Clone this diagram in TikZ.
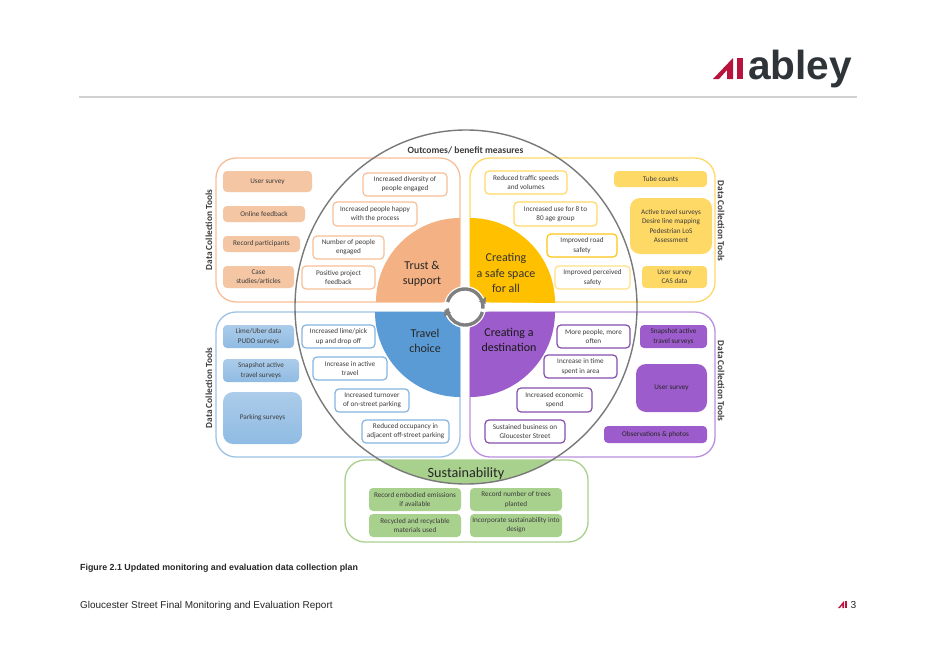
\documentclass[tikz,border=0pt]{standalone}
\usepackage{fontspec}
\setmainfont{Carlito}
\newfontfamily\arialfont{Liberation Sans}
\usetikzlibrary{calc}
\definecolor{oF}{HTML}{F6BF99}\definecolor{oQ}{HTML}{F4B183}\definecolor{oB}{HTML}{F5C6A3}
\definecolor{yF}{HTML}{FFD966}\definecolor{yQ}{HTML}{FFC000}
\definecolor{bF}{HTML}{9DC3E6}\definecolor{bQ}{HTML}{5B9BD5}
\definecolor{pF}{HTML}{B98FE0}\definecolor{pQ}{HTML}{9C5CCB}
\definecolor{gF}{HTML}{A9D18E}
\definecolor{txt}{HTML}{3C3C3C}
\definecolor{ringc}{HTML}{7F7F7F}
\definecolor{logored}{HTML}{B8133C}
\definecolor{logodark}{HTML}{2F3438}
\tikzset{
 frame/.style={draw=#1,line width=1.3pt,rounded corners=20pt,fill=white},
 anybox/.style={align=center,inner sep=0pt,font=\fontsize{7.2}{9.2}\selectfont,text=txt,line width=1.2pt},
 outc/.style={anybox,draw=#1,fill=white,rounded corners=4pt},
 tool/.style={anybox,fill=#1,rounded corners=4pt},
 toolbig/.style={anybox,fill=#1,rounded corners=10pt},
 bluegrad/.style={anybox,top color=bF!85!white,bottom color=bF!80!bQ,rounded corners=#1},
 qlabel/.style={align=center,inner sep=0pt,font=\fontsize{12}{15.7}\selectfont,text=#1},
 vert/.style={inner sep=0pt,font=\fontsize{9.3}{11}\selectfont\bfseries,text=txt},
 arrowring/.style={draw=ringc,line width=3.4pt},
}
\newcommand{\bx}[7]{%
 \pgfmathsetmacro{\bw}{#5-#3}\pgfmathsetmacro{\bh}{#6-#4}%
 \node[#1,minimum width=\bw pt,minimum height=\bh pt] (#2) at ({(#3+#5)/2},{(#4+#6)/2}) {#7};}
\begin{document}
\begin{tikzpicture}[x=1pt,y=-1pt]
\useasboundingbox (0,0) rectangle (934,661);
\fill[white] (0,0) rectangle (934,661);
% header
\draw[draw=black!18,line width=1.3pt] (79,97) -- (857,97);
\fill[logored] (713,79) -- (733,58) -- (733,79) -- (727,79) -- (727,70) -- (719,79) -- cycle;
\fill[logored] (737,58) rectangle (743,79);
\node[anchor=base west,inner sep=0pt,text=logodark,font=\arialfont\bfseries\fontsize{40.6}{40}\selectfont] (logo) at (748,79) {abley};
% frames
\draw[frame=oF] (216,158) rectangle (460,302);
\draw[frame=yF] (470,158) rectangle (715,302);
\draw[frame=bF] (216,312) rectangle (460,457);
\draw[frame=pF] (470,312) rectangle (715,457);
\draw[frame=gF] (345,460) rectangle (588,542);
% quadrants
\fill[oQ] (460,302) -- (376,302) arc[start angle=180,end angle=270,radius=84] -- cycle;
\fill[yQ] (470,302) -- (470,218) arc[start angle=270,end angle=360,radius=85] -- cycle;
\fill[bQ] (460,312) -- (460,397) arc[start angle=90,end angle=180,radius=85] -- cycle;
\fill[pQ] (470,312) -- (555,312) arc[start angle=0,end angle=90,radius=85] -- cycle;
% green segment of the big circle
\begin{scope}
\clip (300,460) rectangle (640,490);
\fill[gF] (466,307) ellipse[x radius=171,y radius=177];
\end{scope}
% big circle
\draw[draw=ringc!95!black,line width=1.4pt] (466,307) ellipse[x radius=171,y radius=177];
% centre ring
\fill[white] (465,307) circle[radius=21];
\draw[arrowring] (447.6,302) arc[start angle=196,end angle=365,radius=18];
\fill[ringc] (479,301.5) -- (486,297) -- (485.5,304) -- cycle;
\draw[arrowring] (482.4,312) arc[start angle=16,end angle=175,radius=18];
\fill[ringc] (451,312.5) -- (444,317) -- (444.5,310) -- cycle;
% labels
\node[inner sep=0pt,font=\fontsize{9.6}{11}\selectfont\bfseries,text=txt] (title) at (465.5,150) {Outcomes/ benefit measures};
\node[vert,rotate=90] (dl1) at (209,230) {Data Collection Tools};
\node[vert,rotate=-90] (dr1) at (721,221) {Data Collection Tools};
\node[vert,rotate=90] (dl2) at (209,388) {Data Collection Tools};
\node[vert,rotate=-90] (dr2) at (721,381) {Data Collection Tools};
\node[qlabel=black!85] (q1) at (422,274) {Trust \&\\support};
\node[qlabel=black!80] (q2) at (506,273) {Creating\\a safe space\\for all};
\node[qlabel=black!85] (q3) at (425,341) {Travel\\choice};
\node[qlabel=black!90] (q4) at (509,340) {Creating a\\destination};
\node[inner sep=0pt,font=\fontsize{14.2}{16}\selectfont,text=black!85] (q5) at (466,474) {Sustainability};
% orange
\bx{tool=oB}{o1}{223}{171}{312}{192}{User survey}
\bx{tool=oB}{o2}{223}{206}{305}{222}{Online feedback}
\bx{tool=oB}{o3}{223}{236}{300}{252}{Record participants}
\bx{tool=oB}{o4}{223}{266}{294}{288}{Case\\studies/articles}
\bx{outc=oF}{o5}{363}{173}{447}{196}{Increased diversity of\\people engaged}
\bx{outc=oF}{o6}{333}{202}{417}{226}{Increased people happy\\with the process}
\bx{outc=oF}{o7}{313}{236}{384}{259}{Number of people\\engaged}
\bx{outc=oF}{o8}{302}{266}{375}{289}{Positive project\\feedback}
% yellow
\bx{outc=yF}{y1}{485}{171}{567}{194}{Reduced traffic speeds\\and volumes}
\bx{outc=yF}{y2}{514}{202}{597}{226}{Increased use for 8 to\\80 age group}
\bx{outc=yQ!80!yF}{y3}{547}{234}{617}{257}{Improved road\\safety}
\bx{outc=yF!80!white}{y4}{555}{266}{630}{289}{Improved perceived\\safety}
\bx{tool=yF}{y5}{614}{171}{707}{187}{Tube counts}
\bx{toolbig=yF}{y6}{630}{198}{712}{254}{Active travel surveys\\Desire line mapping\\Pedestrian LoS\\Assessment}
\bx{tool=yF}{y7}{642}{266}{707}{288}{User survey\\CAS data}
% blue
\bx{bluegrad=4pt}{b1}{223}{325}{294}{348}{Lime/Uber data\\PUDO surveys}
\bx{bluegrad=4pt}{b2}{223}{359}{299}{382}{Snapshot active\\travel surveys}
\bx{bluegrad=10pt}{b3}{223}{392}{302}{444}{Parking surveys}
\bx{outc=bQ!75!white}{b4}{302}{325}{375}{348}{Increased lime/pick\\up and drop off}
\bx{outc=bQ!75!white}{b5}{313}{357}{387}{380}{Increase in active\\travel}
\bx{outc=bQ!75!white}{b6}{335}{389}{409}{412}{Increased turnover\\of on-street parking}
\bx{outc=bQ!75!white}{b7}{362}{420}{449}{443}{Reduced occupancy in\\adjacent off-street parking}
% purple
\bx{outc=pQ!85!black}{p1}{557}{325}{630}{348}{More people, more\\often}
\bx{outc=pQ!85!black}{p2}{544}{355}{617}{378}{Increase in time\\spent in area}
\bx{outc=pQ!85!black}{p3}{517}{388}{592}{412}{Increased economic\\spend}
\bx{outc=pQ!85!black}{p4}{485}{420}{565}{443}{Sustained business on\\Gloucester Street}
\bx{tool=pQ,text=black!85}{p5}{640}{325}{707}{348}{Snapshot active\\travel surveys}
\bx{toolbig=pQ,text=black!85}{p6}{636}{364}{707}{412}{User survey}
\bx{tool=pQ,text=black!85}{p7}{604}{426}{707}{443}{Observations \& photos}
% green
\bx{tool=gF}{g1}{369}{488}{461}{511}{Record embodied emissions\\if available}
\bx{tool=gF}{g2}{470}{488}{562}{511}{Record number of trees\\planted}
\bx{tool=gF}{g3}{369}{514}{461}{537}{Recycled and recyclable\\materials used}
\bx{tool=gF}{g4}{470}{514}{562}{537}{Incorporate sustainability into\\design}
% footer
\node[anchor=base west,inner sep=0pt,font=\arialfont\bfseries\fontsize{8.85}{10}\selectfont,text=black!85] (cap) at (80,570) {Figure 2.1 Updated monitoring and evaluation data collection plan};
\node[anchor=base west,inner sep=0pt,font=\arialfont\fontsize{9.96}{12}\selectfont,text=black!85] (foot) at (80,608.5) {Gloucester Street Final Monitoring and Evaluation Report};
\fill[logored] (838,608) -- (844,601) -- (844,608) -- (842.3,608) -- (842.3,605) -- (840,608) -- cycle;
\fill[logored] (845.2,601) rectangle (847,608);
\node[anchor=base west,inner sep=0pt,font=\arialfont\fontsize{10.2}{12}\selectfont,text=black!85] (pg) at (850.5,608.5) {3};
\end{tikzpicture}
\end{document}
